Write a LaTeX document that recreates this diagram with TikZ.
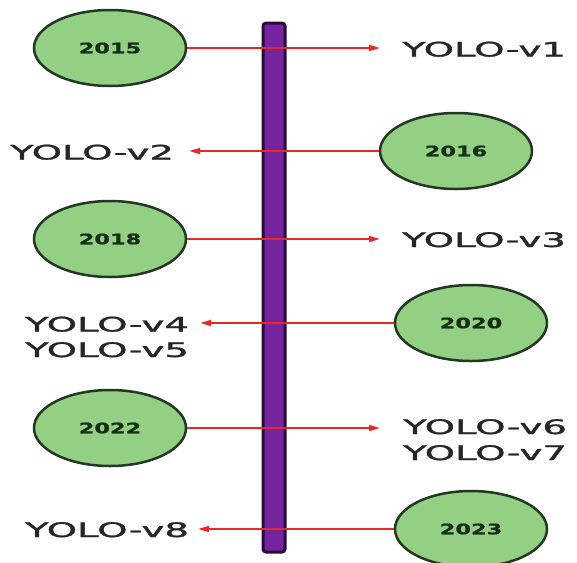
\documentclass[tikz,border=0pt]{standalone}
\usepackage{fontspec}
\setmainfont{DejaVu Sans}
\newfontfamily\verfont[FakeBold=1.2]{DejaVu Sans}
\newfontfamily\yearfont[FakeBold=0.8]{DejaVu Sans Bold}
\usetikzlibrary{shapes.geometric,arrows.meta}
\definecolor{ellfill}{RGB}{147,208,131}
\definecolor{elldraw}{RGB}{35,55,35}
\definecolor{barfill}{RGB}{118,36,158}
\definecolor{bardraw}{RGB}{40,10,60}
\definecolor{arrred}{RGB}{232,40,40}
\definecolor{txtgray}{RGB}{38,38,38}
\definecolor{yeartxt}{RGB}{22,45,22}
\newcommand{\yolo}[1]{\scalebox{1.93}[1]{\fontsize{20}{20}\verfont #1}}
\newcommand{\yr}[1]{\scalebox{1.55}[1]{\fontsize{14.5}{14.5}\yearfont #1}}
\tikzset{
  yearnode/.style={ellipse, draw=elldraw, fill=ellfill, line width=2.5pt,
    minimum width=152pt, minimum height=76pt, inner sep=0pt, text=yeartxt},
  vername/.style={inner sep=0pt, anchor=base west, text=txtgray},
  timebar/.style={draw=bardraw, fill=barfill, line width=3pt, rounded corners=3pt},
  arr/.style={draw=arrred, line width=1.8pt, -{Triangle[length=11pt,width=6pt]}}
}
\begin{document}
\begin{tikzpicture}[x=1pt,y=-1pt]
\useasboundingbox (0,0) rectangle (577,562);
% timeline bar
\node[timebar, minimum width=22pt, minimum height=529pt, inner sep=0pt] (bar) at (274,287.5) {};
% year ellipses
\node[yearnode] (e2015) at (110,48) {\yr{2015}};
\node[yearnode] (e2016) at (456,151) {\yr{2016}};
\node[yearnode] (e2018) at (110,239) {\yr{2018}};
\node[yearnode] (e2020) at (471,323) {\yr{2020}};
\node[yearnode] (e2022) at (110,428) {\yr{2022}};
\node[yearnode] (e2023) at (471,529) {\yr{2023}};
% version labels
\node[vername] (v1) at (402,56.5) {\yolo{YOLO-v1}};
\node[vername] (v2) at (10,159.5) {\yolo{YOLO-v2}};
\node[vername] (v3) at (402,247) {\yolo{YOLO-v3}};
\node[vername] (v4) at (25,331.5) {\yolo{YOLO-v4}};
\node[vername] (v5) at (25,357) {\yolo{YOLO-v5}};
\node[vername] (v6) at (403,434) {\yolo{YOLO-v6}};
\node[vername] (v7) at (403,460) {\yolo{YOLO-v7}};
\node[vername] (v8) at (25,537) {\yolo{YOLO-v8}};
% arrows
\draw[arr] (e2015) -- ([xshift=-22pt]e2015 -| v1.west);
\draw[arr] (e2016) -- ([xshift=15pt]e2016 -| v2.east);
\draw[arr] (e2018) -- ([xshift=-22pt]e2018 -| v3.west);
\draw[arr] (e2020) -- ([xshift=11pt]e2020 -| v4.east);
\draw[arr] (e2022) -- ([xshift=-23pt]e2022 -| v6.west);
\draw[arr] (e2023) -- ([xshift=9pt]e2023 -| v8.east);
\end{tikzpicture}
\end{document}
